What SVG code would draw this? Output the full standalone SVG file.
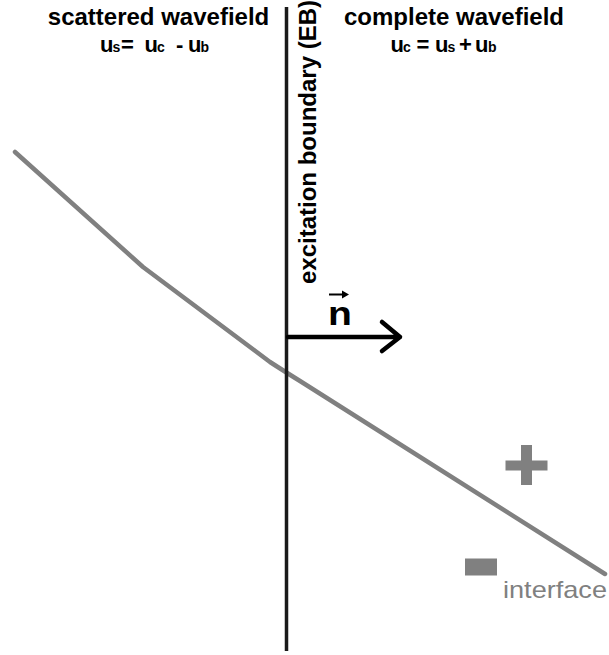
<svg xmlns="http://www.w3.org/2000/svg" width="609" height="655" viewBox="0 0 609 655">
<style>
.t{font-family:"Liberation Sans",Arial,sans-serif;font-weight:bold;fill:#000}
.big{font-size:24px}
.eq{font-size:22px}
.sub{font-size:14px}
.gray{fill:#808080}
</style>
<rect width="609" height="655" fill="#fff"/>
<g id="interface">
<path d="M15,152 L143,267 L270,362 Q287,373 300,381 L605,574" fill="none" stroke="#808080" stroke-width="4.5" stroke-linecap="round" stroke-linejoin="round"/>
<text x="503" y="598" font-family="'Liberation Sans',Arial,sans-serif" font-size="24" fill="#808080" textLength="104" lengthAdjust="spacingAndGlyphs">interface</text>
</g>
<g id="plus">
<rect class="gray" x="505.5" y="460.5" width="42" height="10"/>
<rect class="gray" x="521" y="445" width="11" height="40"/>
</g>
<g id="minus">
<rect class="gray" x="465" y="558.5" width="32" height="17"/>
</g>
<g id="boundary">
<line x1="286.5" y1="7" x2="286.5" y2="651" stroke="#1a1a1a" stroke-width="3.5"/>
<text class="t big" transform="translate(316,142) rotate(-90)" text-anchor="middle">excitation boundary (EB)</text>
</g>
<g id="scattered">
<text class="t big" x="158.5" y="25" text-anchor="middle">scattered wavefield</text>
<text class="t eq" y="52"><tspan x="100">u</tspan><tspan class="sub" x="112.5">s</tspan><tspan x="121">=</tspan><tspan x="144.5">u</tspan><tspan class="sub" x="157">c</tspan><tspan x="176">-</tspan><tspan x="188">u</tspan><tspan class="sub" x="200.5">b</tspan></text>
</g>
<g id="complete">
<text class="t big" x="454" y="25" text-anchor="middle">complete wavefield</text>
<text class="t eq" y="52"><tspan x="390.5">u</tspan><tspan class="sub" x="403">c</tspan><tspan x="416.5">=</tspan><tspan x="435">u</tspan><tspan class="sub" x="447.5">s</tspan><tspan x="459">+</tspan><tspan x="475">u</tspan><tspan class="sub" x="488">b</tspan></text>
</g>
<g id="connectors">
<g id="normal">
<path d="M288,337 L400,337 M382,322 L400,337 L382,351" fill="none" stroke="#000" stroke-width="4.5" stroke-linecap="round" stroke-linejoin="round"/>
<text transform="translate(328,325) scale(1.15,1)" font-family="'Liberation Sans',Arial,sans-serif" font-weight="bold" font-size="34" fill="#000">n</text>
<line x1="329" y1="294.5" x2="344" y2="294.5" stroke="#000" stroke-width="2"/>
<path d="M342,290.5 L349,294.5 L342,298.5 Z" fill="#000"/>
</g>
</g>
</svg>
